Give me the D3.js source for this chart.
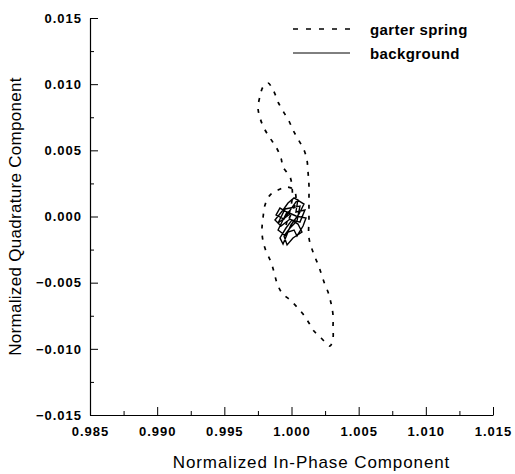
<!DOCTYPE html>
<html>
<head>
<meta charset="utf-8">
<script src="https://cdn.jsdelivr.net/npm/d3@7"></script>
<style>
  body { margin: 0; background: #fff; }
  svg text { font-family: "Liberation Sans", Arial, sans-serif; fill: #000; }
  .tick text { font-weight: bold; font-size: 13px; letter-spacing: 1px; }
  .domain, .tick line { stroke: #000; }
</style>
</head>
<body>
<div id="chart"></div>
<script>
// garter spring trace (in-phase, quadrature)
var springX = [0.99959, 1.00004, 1.00004, 0.99989, 0.99937, 0.99922, 0.99885, 0.99840, 0.99795, 0.99766,
  0.99751, 0.99766, 0.99788, 0.99825, 0.99855, 0.99877, 0.99900, 0.99937, 0.99981, 1.00011,
  1.00048, 1.00093, 1.00115, 1.00123, 1.00130, 1.00130, 1.00130, 1.00130, 1.00160, 1.00205,
  1.00242, 1.00272, 1.00294, 1.00309, 1.00309, 1.00309, 1.00287, 1.00257, 1.00220, 1.00167,
  1.00130, 1.00086, 1.00041, 0.99989, 0.99929, 0.99892, 0.99870, 0.99847, 0.99810, 0.99788,
  0.99780, 0.99788, 0.99803, 0.99840, 0.99900, 0.99967, 1.00019, 1.00033, 1.00004, 0.99959];
var springY = [-0.00064, 0.00125, 0.00223, 0.00299, 0.00374, 0.00442, 0.00525, 0.00593, 0.00669, 0.00744,
  0.00820, 0.00911, 0.00979, 0.01009, 0.00971, 0.00926, 0.00865, 0.00797, 0.00722, 0.00654,
  0.00586, 0.00503, 0.00427, 0.00336, 0.00238, 0.00125, -0.00011, -0.00162, -0.00268, -0.00382,
  -0.00495, -0.00571, -0.00654, -0.00744, -0.00843, -0.00918, -0.00979, -0.00956, -0.00918, -0.00865,
  -0.00805, -0.00737, -0.00684, -0.00631, -0.00578, -0.00503, -0.00419, -0.00344, -0.00261, -0.00185,
  -0.00102, -0.00011, 0.00087, 0.00162, 0.00200, 0.00223, 0.00200, 0.00125, 0.00034, -0.00064];

// background trace
var bgX = [0.99989, 0.99914, 0.99885, 0.99944, 1.00011, 1.00048, 1.00033, 1.00100, 1.00063, 1.00004,
  0.99959, 0.99914, 0.99937, 0.99974, 1.00019, 1.00041, 1.00086, 1.00108, 1.00033, 0.99967,
  0.99929, 0.99900, 0.99959, 0.99996, 1.00056, 1.00093, 1.00019, 0.99974, 0.99937, 0.99877,
  0.99922, 0.99989, 1.00048, 1.00078, 1.00011, 0.99967, 0.99944, 0.99989, 1.00041, 1.00063,
  0.99952, 0.99900, 0.99989];
var bgY = [0.00019, 0.00064, 0.00011, -0.00019, 0.00079, 0.00132, 0.00034, 0.00049, -0.00042, -0.00026,
  -0.00087, -0.00162, -0.00208, -0.00117, -0.00102, -0.00147, -0.00072, -0.00011, 0.00004, 0.00034,
  -0.00042, -0.00102, -0.00147, -0.00064, 0.00019, 0.00094, 0.00140, 0.00102, 0.00049, -0.00026,
  -0.00072, -0.00019, -0.00057, -0.00117, -0.00162, -0.00215, -0.00147, -0.00087, -0.00034, 0.00079,
  0.00057, -0.00049, 0.00019];

var xTicks = [0.985, 0.990, 0.995, 1.000, 1.005, 1.010, 1.015];
var yTicks = [-0.015, -0.010, -0.005, 0.000, 0.005, 0.010, 0.015];
var xMinor = [0.9875, 0.9925, 0.9975, 1.0025, 1.0075, 1.0125];
var yMinor = [-0.0125, -0.0075, -0.0025, 0.0025, 0.0075, 0.0125];

var seriesNames = ["garter spring", "background"];

var width = 515, height = 474;
var mLeft = 90, mRight = 493, mTop = 18, mBottom = 415;

var svg = d3.select("#chart").append("svg")
  .attr("width", width)
  .attr("height", height);

var x = d3.scaleLinear().domain([0.985, 1.015]).range([mLeft, mRight]);
var y = d3.scaleLinear().domain([-0.015, 0.015]).range([mBottom, mTop]);

// minor ticks first, no labels
svg.append("g")
  .attr("transform", "translate(0," + mBottom + ")")
  .call(d3.axisBottom(x).tickValues(xMinor).tickSize(-4).tickFormat(""))
  .call(function(g){ g.select(".domain").remove(); });
svg.append("g")
  .attr("transform", "translate(" + mLeft + ",0)")
  .call(d3.axisLeft(y).tickValues(yMinor).tickSize(-4).tickFormat(""))
  .call(function(g){ g.select(".domain").remove(); });

svg.append("g")
  .attr("transform", "translate(0," + mBottom + ")")
  .call(d3.axisBottom(x).tickValues(xTicks).tickSizeInner(-8).tickSizeOuter(0)
    .tickPadding(12).tickFormat(d3.format(".3f")));

svg.append("g")
  .attr("transform", "translate(" + mLeft + ",0)")
  .call(d3.axisLeft(y).tickValues(yTicks).tickSizeInner(-8).tickSizeOuter(0)
    .tickPadding(8).tickFormat(d3.format(".3f")));

svg.selectAll(".domain").attr("stroke-width", 1.2);

svg.append("text")
  .attr("x", (mLeft + mRight) / 2 + 20)
  .attr("y", 468)
  .attr("text-anchor", "middle")
  .style("font-size", "17px")
  .style("letter-spacing", "0.9px")
  .text("Normalized In-Phase Component");

svg.append("text")
  .attr("transform", "translate(21," + ((mTop + mBottom) / 2) + ") rotate(-90)")
  .attr("text-anchor", "middle")
  .style("font-size", "17px")
  .style("letter-spacing", "0.3px")
  .text("Normalized Quadrature Component");

var line = d3.line()
  .x(function(d){ return x(d[0]); })
  .y(function(d){ return y(d[1]); })
  .curve(d3.curveCatmullRom);

var spring = springX.map(function(v, i){ return [v, springY[i]]; });
var bg = bgX.map(function(v, i){ return [v, bgY[i]]; });

svg.append("path")
  .datum(spring)
  .attr("d", line)
  .attr("fill", "none")
  .attr("stroke", "#000")
  .attr("stroke-width", 1.7)
  .attr("stroke-dasharray", "4,7");

svg.append("path")
  .datum(bg)
  .attr("d", d3.line().x(function(d){ return x(d[0]); }).y(function(d){ return y(d[1]); }))
  .attr("fill", "none")
  .attr("stroke", "#000")
  .attr("stroke-width", 1.4);

// legend
var legend = svg.append("g");
legend.append("line")
  .attr("x1", 293).attr("x2", 350).attr("y1", 29).attr("y2", 29)
  .attr("stroke", "#000").attr("stroke-width", 1.3)
  .attr("stroke-dasharray", "5,8");
legend.append("line")
  .attr("x1", 293).attr("x2", 350).attr("y1", 53).attr("y2", 53)
  .attr("stroke", "#000").attr("stroke-width", 1);
legend.selectAll("text.lg")
  .data(seriesNames)
  .enter().append("text")
  .attr("class", "lg")
  .attr("x", 370)
  .attr("y", function(d, i){ return 35 + i * 24; })
  .style("font-size", "15px")
  .style("font-weight", "bold")
  .style("letter-spacing", "0.4px")
  .text(function(d){ return d; });
</script>
</body>
</html>
